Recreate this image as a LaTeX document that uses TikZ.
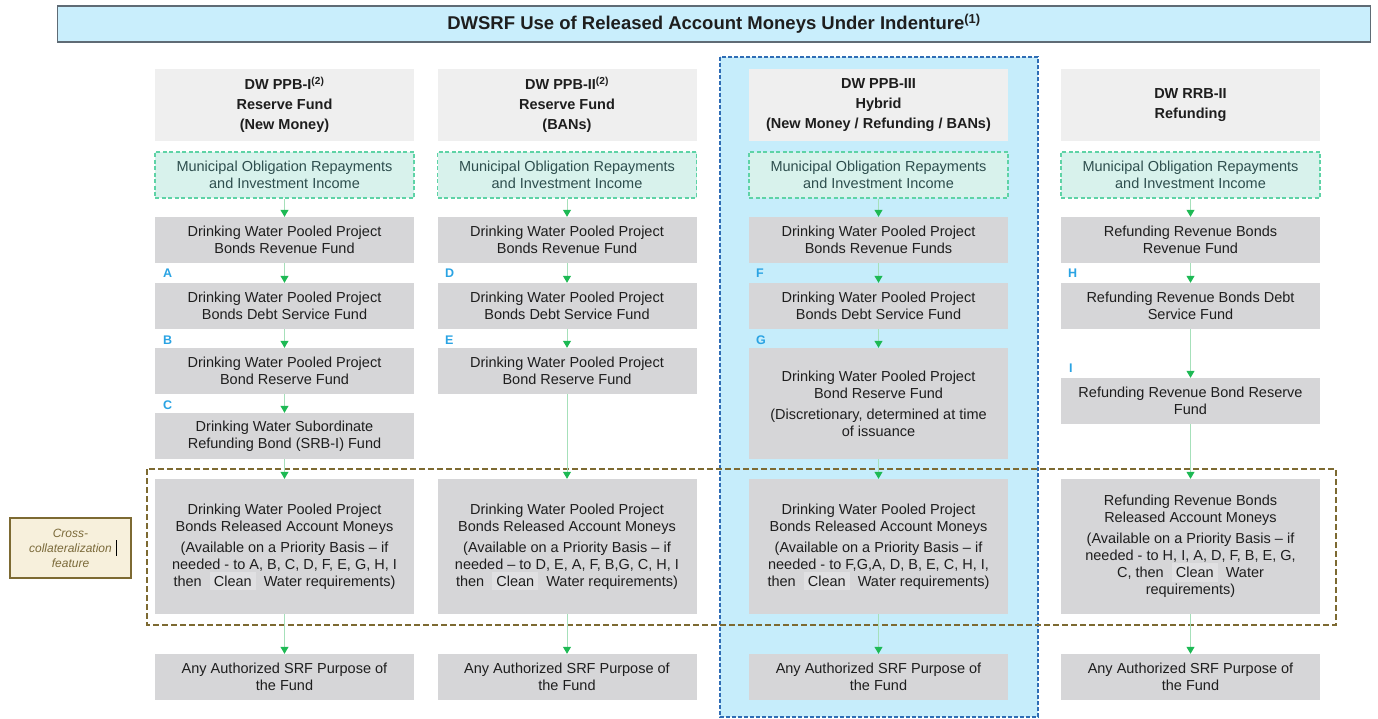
\documentclass[tikz,border=0pt]{standalone}
\usepackage{fontspec}
\setmainfont{Liberation Sans}
\usetikzlibrary{arrows.meta}
\definecolor{titlefill}{HTML}{C9EEFC}
\definecolor{titledraw}{HTML}{5F6B75}
\definecolor{hdrfill}{HTML}{EFEFEF}
\definecolor{boxfill}{HTML}{D6D6D8}
\definecolor{munifill}{HTML}{D8F2EC}
\definecolor{munidraw}{HTML}{5ED3A6}
\definecolor{munitext}{HTML}{2E4E4E}
\definecolor{linegreen}{HTML}{A6E0BA}
\definecolor{headgreen}{HTML}{1DB954}
\definecolor{hlfill}{HTML}{C6EDFB}
\definecolor{hldraw}{HTML}{2F6DB5}
\definecolor{crossdraw}{HTML}{7D6A32}
\definecolor{crossfill}{HTML}{F7F0DC}
\definecolor{crosstext}{HTML}{7B6A3A}
\definecolor{lettercol}{HTML}{2AA3E3}
\definecolor{textcol}{HTML}{1E1E1E}
\definecolor{cleanfill}{HTML}{E0E0E2}
\newcommand{\cln}{{\setlength{\fboxsep}{4pt}\smash{\colorbox{cleanfill}{Clean}}}}
\tikzset{
  base/.style={inner sep=0pt, align=center, minimum width=259pt, text=textcol,
    font=\fontsize{14.5}{17}\selectfont},
  gbox/.style={base, fill=boxfill},
  hdr/.style={base, fill=hdrfill, minimum height=72pt, font=\bfseries\fontsize{14.5}{20}\selectfont},
  muni/.style={base, fill=munifill, draw=munidraw, dash pattern=on 4pt off 2.5pt,
    line width=1.3pt, text=munitext, minimum height=46pt},
  flow/.style={draw=linegreen, line width=1pt, -{Triangle[length=7pt,width=8pt,color=headgreen]}},
  lbl/.style={text=lettercol, font=\bfseries\fontsize{12.5}{12}\selectfont, anchor=west, inner sep=0pt},
}
\begin{document}
\begin{tikzpicture}[x=1pt,y=-1pt]
\useasboundingbox (0,0) rectangle (1378,719);
% highlight column
\draw[fill=hlfill, draw=hldraw, line width=1.5pt, dash pattern=on 4pt off 2pt] (720,57) rectangle (1038,717);
% title
\node[draw=titledraw, fill=titlefill, line width=1.5pt, minimum width=1313pt, minimum height=36pt, inner sep=0pt,
  font=\bfseries\fontsize{18.5}{20}\selectfont, text=textcol] (title) at (714,24)
  {DWSRF Use of Released Account Moneys Under Indenture\textsuperscript{(1)}};
% headers
\node[hdr] (h1) at (284.5,105) {DW PPB-I\textsuperscript{(2)}\\Reserve Fund\\(New Money)};
\node[hdr] (h2) at (567,105) {DW PPB-II\textsuperscript{(2)}\\Reserve Fund\\(BANs)};
\node[hdr] (h3) at (878.5,105) {DW PPB-III\\Hybrid\\(New Money / Refunding / BANs)};
\node[hdr] (h4) at (1190.5,105) {DW RRB-II\\Refunding};
% municipal
\node[muni] (m1) at (284.5,175) {Municipal Obligation Repayments\\and Investment Income};
\node[muni] (m2) at (567,175) {Municipal Obligation Repayments\\and Investment Income};
\node[muni] (m3) at (878.5,175) {Municipal Obligation Repayments\\and Investment Income};
\node[muni] (m4) at (1190.5,175) {Municipal Obligation Repayments\\and Investment Income};
% revenue funds
\node[gbox, minimum height=46pt] (r1) at (284.5,240) {Drinking Water Pooled Project\\Bonds Revenue Fund};
\node[gbox, minimum height=46pt] (r2) at (567,240) {Drinking Water Pooled Project\\Bonds Revenue Fund};
\node[gbox, minimum height=46pt] (r3) at (878.5,240) {Drinking Water Pooled Project\\Bonds Revenue Funds};
\node[gbox, minimum height=46pt] (r4) at (1190.5,240) {Refunding Revenue Bonds\\Revenue Fund};
% debt service
\node[gbox, minimum height=46pt] (d1) at (284.5,306) {Drinking Water Pooled Project\\Bonds Debt Service Fund};
\node[gbox, minimum height=46pt] (d2) at (567,306) {Drinking Water Pooled Project\\Bonds Debt Service Fund};
\node[gbox, minimum height=46pt] (d3) at (878.5,306) {Drinking Water Pooled Project\\Bonds Debt Service Fund};
\node[gbox, minimum height=46pt] (d4) at (1190.5,306) {Refunding Revenue Bonds Debt\\Service Fund};
% reserve
\node[gbox, minimum height=46pt] (s1) at (284.5,371) {Drinking Water Pooled Project\\Bond Reserve Fund};
\node[gbox, minimum height=46pt] (s2) at (567,371) {Drinking Water Pooled Project\\Bond Reserve Fund};
\node[gbox, minimum height=111pt] (s3) at (878.5,403.5) {Drinking Water Pooled Project\\Bond Reserve Fund\\[4pt](Discretionary, determined at time\\of issuance};
\node[gbox, minimum height=46pt] (s4) at (1190.5,401) {Refunding Revenue Bond Reserve\\Fund};
% SRB
\node[gbox, minimum height=46pt] (b1) at (284.5,436) {Drinking Water Subordinate\\Refunding Bond (SRB-I) Fund};
% released
\node[gbox, minimum height=135pt] (e1) at (284.5,546.5) {Drinking Water Pooled Project\\Bonds Released Account Moneys\\[4pt](Available on a Priority Basis -- if\\needed - to A, B, C, D, F, E, G, H, I\\then \ \cln \ \ Water requirements)};
\node[gbox, minimum height=135pt] (e2) at (567,546.5) {Drinking Water Pooled Project\\Bonds Released Account Moneys\\[4pt](Available on a Priority Basis -- if\\needed -- to D, E, A, F, B,G, C, H, I\\then \ \cln \ \ Water requirements)};
\node[gbox, minimum height=135pt] (e3) at (878.5,546.5) {Drinking Water Pooled Project\\Bonds Released Account Moneys\\[4pt](Available on a Priority Basis -- if\\needed - to F,G,A, D, B, E, C, H, I,\\then \ \cln \ \ Water requirements)};
\node[gbox, minimum height=135pt] (e4) at (1190.5,546.5) {Refunding Revenue Bonds\\Released Account Moneys\\[4pt](Available on a Priority Basis -- if\\needed - to H, I, A, D, F, B, E, G,\\C, then \ \cln \ \ Water\\requirements)};
% any
\node[gbox, minimum height=46pt] (a1) at (284.5,677) {Any Authorized SRF Purpose of\\the Fund};
\node[gbox, minimum height=46pt] (a2) at (567,677) {Any Authorized SRF Purpose of\\the Fund};
\node[gbox, minimum height=46pt] (a3) at (878.5,677) {Any Authorized SRF Purpose of\\the Fund};
\node[gbox, minimum height=46pt] (a4) at (1190.5,677) {Any Authorized SRF Purpose of\\the Fund};
% cross-collateralization frame
\draw[draw=crossdraw, line width=2.5pt, dash pattern=on 6pt off 3pt] (147,469) rectangle (1336,625);
\node[draw=crossdraw, fill=crossfill, line width=2pt, minimum width=121pt, minimum height=60pt, inner sep=0pt,
  align=center, text=crosstext, font=\itshape\fontsize{12}{15}\selectfont] (cx) at (70.5,548)
  {Cross-\\collateralization\\feature};
\draw[black, line width=1pt] (116,540) -- (116,556);
% letters
\node[lbl] (lA) at (163,273) {A};
\node[lbl] (lB) at (163,340) {B};
\node[lbl] (lC) at (163,405) {C};
\node[lbl] (lD) at (445,273) {D};
\node[lbl] (lE) at (445,340) {E};
\node[lbl] (lF) at (756,273) {F};
\node[lbl] (lG) at (756,340) {G};
\node[lbl] (lH) at (1068,273) {H};
\node[lbl] (lI) at (1069,368) {I};
% flows
\foreach \a/\b in {m1/r1,r1/d1,d1/s1,s1/b1,b1/e1,e1/a1,
                   m2/r2,r2/d2,d2/s2,s2/e2,e2/a2,
                   m3/r3,r3/d3,d3/s3,s3/e3,e3/a3,
                   m4/r4,r4/d4,d4/s4,s4/e4,e4/a4}
  \draw[flow] (\a) -- (\b);
\end{tikzpicture}
\end{document}
